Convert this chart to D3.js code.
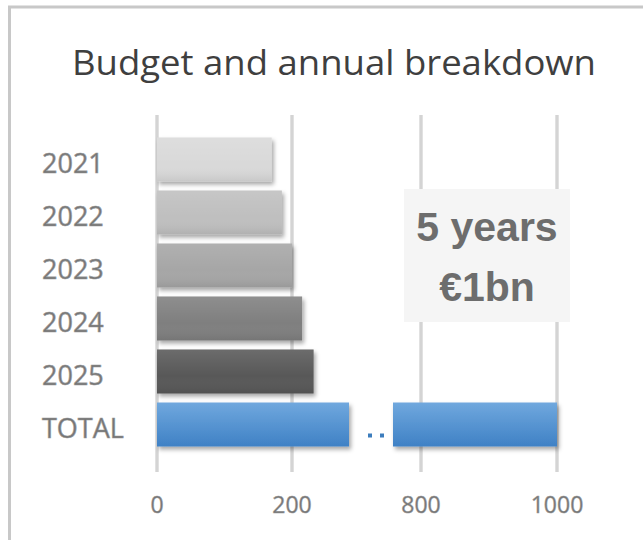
<!DOCTYPE html>
<html>
<head>
<meta charset="utf-8">
<script src="https://cdn.jsdelivr.net/npm/d3@7"></script>
<style>
  html, body { margin: 0; padding: 0; background: #ffffff; }
  svg { display: block; }
</style>
</head>
<body>
<div id="chart"></div>
<script>
// ---- data ----
const categories = ["2021", "2022", "2023", "2024", "2025", "TOTAL"];
const values = [170, 185, 200, 215, 232, 1000];
const barColors = ["#d9d9d9", "#bfbfbf", "#a6a6a6", "#7f7f7f", "#595959", "#5b9bd5"];
const leftTicks = [0, 200];
const rightTicks = [800, 1000];
const title = "Budget and annual breakdown";
const calloutLines = ["5 years", "€1bn"];

const W = 643, H = 540;
const svg = d3.select("#chart").append("svg").attr("width", W).attr("height", H);
const defs = svg.append("defs");

// filters & gradients
const f = defs.append("filter").attr("id", "shadow").attr("x", "-10%").attr("y", "-30%").attr("width", "130%").attr("height", "170%");
f.append("feDropShadow").attr("dx", 2).attr("dy", 3).attr("stdDeviation", 2)
  .attr("flood-color", "#000").attr("flood-opacity", 0.35);

const gBlue = defs.append("linearGradient").attr("id", "blueGrad").attr("x1", 0).attr("y1", 0).attr("x2", 0).attr("y2", 1);
gBlue.append("stop").attr("offset", "0%").attr("stop-color", "#70a8de");
gBlue.append("stop").attr("offset", "100%").attr("stop-color", "#3f81c5");

const gShade = defs.append("linearGradient").attr("id", "shade").attr("x1", 0).attr("y1", 0).attr("x2", 0).attr("y2", 1);
gShade.append("stop").attr("offset", "0%").attr("stop-color", "#fff").attr("stop-opacity", 0.12);
gShade.append("stop").attr("offset", "60%").attr("stop-color", "#fff").attr("stop-opacity", 0);
gShade.append("stop").attr("offset", "100%").attr("stop-color", "#000").attr("stop-opacity", 0.08);

// frame
svg.append("rect").attr("x", 9.5).attr("y", 7).attr("width", 700).attr("height", 600)
  .attr("fill", "none").attr("stroke", "#c8c8c8").attr("stroke-width", 3);

// title
svg.append("text").attr("x", 334).attr("y", 75).attr("text-anchor", "middle")
  .attr("font-family", "'Open Sans', sans-serif").attr("font-size", 35.5)
  .attr("fill", "#3f3f3f").attr("textLength", 524).attr("lengthAdjust", "spacingAndGlyphs")
  .text(title);

// scales (broken axis)
const xL = d3.scaleLinear().domain([0, 200]).range([157, 292]);
const xR = d3.scaleLinear().domain([800, 1000]).range([421, 557]);
const leftEnd = 349, rightStart = 393;
const y = d3.scaleBand().domain(categories).range([133, 451]).paddingInner(0.17).paddingOuter(0.085);

// gridlines
const gridTop = 115, gridBottom = 472;
const grid = svg.append("g");
const allTicks = leftTicks.map(v => xL(v)).concat(rightTicks.map(v => xR(v)));
grid.selectAll("line.g").data(allTicks).join("line")
  .attr("x1", d => d).attr("x2", d => d).attr("y1", gridTop).attr("y2", gridBottom)
  .attr("stroke", "#c4c4c4").attr("stroke-width", 3);
grid.selectAll("line.gi").data(allTicks).join("line")
  .attr("x1", d => d).attr("x2", d => d).attr("y1", gridTop).attr("y2", gridBottom)
  .attr("stroke", "#e4e4e4").attr("stroke-width", 1);

// bars
const bars = svg.append("g");
categories.forEach((c, i) => {
  const v = values[i];
  const y0 = y(c), h = y.bandwidth();
  const fill = c === "TOTAL" ? "url(#blueGrad)" : barColors[i];
  if (xL(v) <= leftEnd) {
    bars.append("rect").attr("x", xL(0)).attr("y", y0).attr("width", xL(v) - xL(0)).attr("height", h)
      .attr("fill", fill).attr("filter", "url(#shadow)");
    bars.append("rect").attr("x", xL(0)).attr("y", y0).attr("width", xL(v) - xL(0)).attr("height", h)
      .attr("fill", "url(#shade)");
  } else {
    bars.append("rect").attr("x", xL(0)).attr("y", y0).attr("width", leftEnd - xL(0)).attr("height", h)
      .attr("fill", fill).attr("filter", "url(#shadow)");
    bars.append("rect").attr("x", rightStart).attr("y", y0).attr("width", xR(v) - rightStart).attr("height", h)
      .attr("fill", fill).attr("filter", "url(#shadow)");
    // break dots
    const cy = y0 + h / 2 + 11;
    [370, 382].forEach(dx => {
      bars.append("rect").attr("x", dx - 2).attr("y", cy - 2).attr("width", 4).attr("height", 4).attr("fill", "#3c7dbd");
    });
  }
});

// category labels
svg.append("g").selectAll("text").data(categories).join("text")
  .attr("x", 42).attr("y", d => y(d) + y.bandwidth() / 2 + 3)
  .attr("dominant-baseline", "central")
  .attr("font-family", "'Open Sans', sans-serif").attr("font-size", 27)
  .attr("fill", "#747474").attr("stroke", "#999999").attr("stroke-width", 0.6)
  .text(d => d);

// x tick labels
const tickData = leftTicks.map(v => ({v, x: xL(v)})).concat(rightTicks.map(v => ({v, x: xR(v)})));
svg.append("g").selectAll("text").data(tickData).join("text")
  .attr("x", d => d.x).attr("y", 513).attr("text-anchor", "middle")
  .attr("font-family", "'Open Sans', sans-serif").attr("font-size", 23)
  .attr("fill", "#747474").attr("stroke", "#999999").attr("stroke-width", 0.5)
  .text(d => d.v);

// callout box
svg.append("rect").attr("x", 404).attr("y", 189).attr("width", 166).attr("height", 133).attr("fill", "#f5f5f5");
svg.append("g").selectAll("text").data(calloutLines).join("text")
  .attr("x", 487).attr("y", (d, i) => 241 + i * 60).attr("text-anchor", "middle")
  .attr("font-family", "'Liberation Sans', Arial, sans-serif").attr("font-weight", "bold")
  .attr("font-size", 41).attr("fill", "#6d6d6d")
  .text(d => d);
</script>
</body>
</html>
